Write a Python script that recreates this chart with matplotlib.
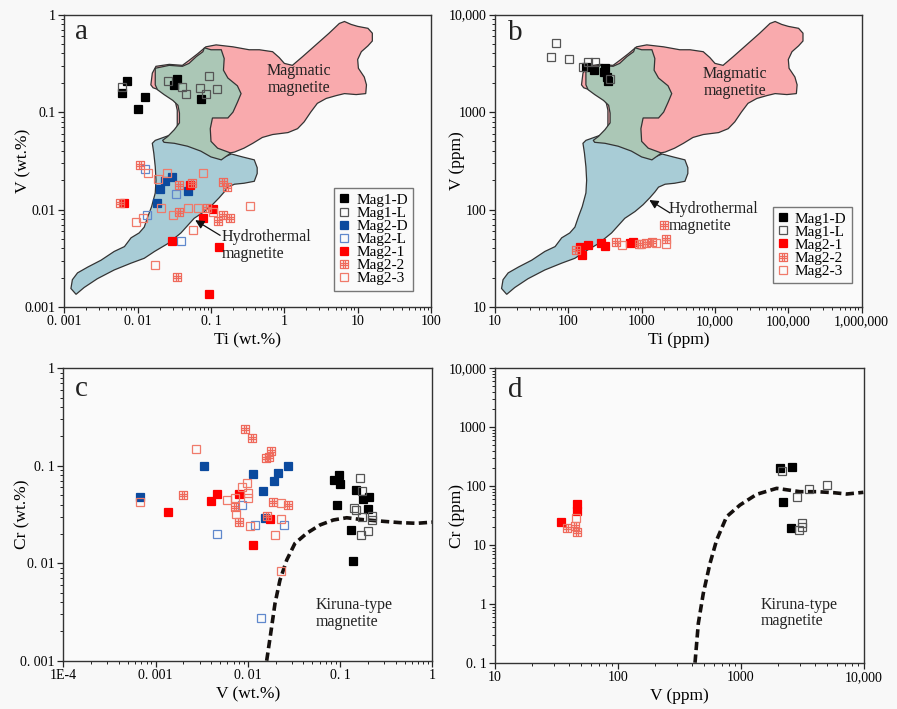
import matplotlib

matplotlib.use("Agg")

import matplotlib.pyplot as plt
import numpy as np
from matplotlib.path import Path
from matplotlib.ticker import LogLocator, NullFormatter


WIDTH = 897
HEIGHT = 709
DPI = 100

SERIF = "Liberation Serif"
PAPER = "#f8f8f8"
FACE = "#fafafa"
INK = "#222222"

# Discrimination fields (Ti vs V), stored as log10 of ppm.
MAGMATIC_TI = [2.18, 2.20, 2.25, 2.43, 2.61, 2.70, 2.82, 2.93, 3.07, 3.30,
               3.52, 3.66, 3.84, 3.93, 4.00, 4.11, 4.25, 4.43, 4.61, 4.75,
               4.82, 4.91, 5.00, 5.14, 5.20, 5.20, 5.14, 5.05, 5.00, 5.01,
               5.09, 5.12, 5.11, 4.98, 4.82, 4.71, 4.57, 4.45, 4.36, 4.27,
               4.18, 4.05, 3.84, 3.70, 3.57, 3.45, 3.32, 3.18, 2.98, 2.77,
               2.64, 2.54, 2.54, 2.51, 2.36, 2.21]
MAGMATIC_V = [3.28, 3.40, 3.47, 3.49, 3.48, 3.53, 3.60, 3.67, 3.69, 3.67,
              3.64, 3.64, 3.62, 3.56, 3.50, 3.48, 3.57, 3.69, 3.81, 3.91,
              3.93, 3.90, 3.88, 3.86, 3.81, 3.73, 3.68, 3.62, 3.54, 3.45,
              3.36, 3.28, 3.19, 3.18, 3.19, 3.17, 3.14, 3.09, 3.00, 2.90,
              2.83, 2.79, 2.77, 2.74, 2.68, 2.63, 2.59, 2.57, 2.62, 2.69,
              2.77, 2.85, 3.02, 3.12, 3.21, 3.25]

HYDRO_TI = [1.16, 1.09, 1.11, 1.18, 1.32, 1.50, 1.68, 1.82, 1.91, 2.02,
            2.09, 2.14, 2.19, 2.24, 2.25, 2.24, 2.22, 2.20, 2.24, 2.50,
            2.77, 3.05, 3.18, 3.28, 3.43, 3.59, 3.63, 3.63, 3.59, 3.45,
            3.32, 3.23, 3.18, 3.11, 3.02, 2.91, 2.77, 2.59, 2.41, 2.23,
            2.09, 1.91, 1.68, 1.45, 1.27]
HYDRO_V = [1.13, 1.19, 1.28, 1.35, 1.41, 1.48, 1.57, 1.62, 1.71, 1.76,
           1.82, 1.93, 2.03, 2.17, 2.30, 2.44, 2.58, 2.68, 2.71, 2.78,
           2.71, 2.59, 2.54, 2.57, 2.54, 2.51, 2.43, 2.37, 2.29, 2.27,
           2.26, 2.23, 2.18, 2.12, 2.05, 1.98, 1.91, 1.76, 1.65, 1.57,
           1.50, 1.45, 1.38, 1.29, 1.20]

OVERLAP_TI = [2.24, 2.43, 2.61, 2.70, 2.80, 2.89, 2.91, 3.00, 3.14, 3.18,
              3.17, 3.23, 3.36, 3.41, 3.36, 3.30, 3.23, 3.02, 2.99, 3.00,
              3.09, 3.27, 3.14, 3.00, 2.86, 2.68, 2.50, 2.36, 2.34, 2.41,
              2.50, 2.57, 2.57, 2.55, 2.48, 2.36, 2.27, 2.24]
OVERLAP_V = [3.45, 3.48, 3.47, 3.50, 3.57, 3.62, 3.66, 3.64, 3.64, 3.55,
             3.43, 3.35, 3.27, 3.19, 3.10, 3.00, 2.94, 2.94, 2.83, 2.70,
             2.63, 2.58, 2.51, 2.54, 2.60, 2.65, 2.68, 2.69, 2.71, 2.75,
             2.82, 2.89, 2.99, 3.07, 3.12, 3.18, 3.23, 3.28]

# Panel a: Ti vs V in wt.%
A_MAG1_D = ([0.00605, 0.00723, 0.0102, 0.0126, 0.0316, 0.034, 0.0738],
            [0.156, 0.210, 0.107, 0.144, 0.190, 0.219, 0.137])
A_MAG1_L = ([0.00605, 0.0262, 0.0398, 0.0456, 0.0708, 0.0846, 0.0949, 0.121],
            [0.180, 0.209, 0.182, 0.152, 0.178, 0.152, 0.233, 0.173])
A_MAG2_D = ([0.0292, 0.0236, 0.0202, 0.0491, 0.0182],
            [0.0217, 0.0198, 0.0163, 0.0156, 0.0116])
A_MAG2_L = ([0.0126, 0.033, 0.0133, 0.039],
            [0.0259, 0.0144, 0.00879, 0.00479])
A_MAG2_1 = ([0.0518, 0.00652, 0.106, 0.0787, 0.0292, 0.130, 0.094],
            [0.0179, 0.0116, 0.0102, 0.00813, 0.00479, 0.0041, 0.00136])
A_MAG2_2 = ([0.0108, 0.0370, 0.0546, 0.147, 0.167, 0.00575, 0.037, 0.0875,
             0.147, 0.182, 0.126, 0.0348],
            [0.0286, 0.0179, 0.0186, 0.0193, 0.0169, 0.0116, 0.0095, 0.0103,
             0.00879, 0.00813, 0.00769, 0.00202])
A_MAG2_3 = ([0.0140, 0.0254, 0.0191, 0.0787, 0.0207, 0.0301, 0.0491, 0.0671,
             0.108, 0.340, 0.0117, 0.0095, 0.0574, 0.0173],
            [0.0239, 0.0239, 0.0205, 0.0239, 0.0103, 0.00879, 0.0103, 0.0103,
             0.0095, 0.0109, 0.00813, 0.0075, 0.00617, 0.0027])

# Panel b: Ti vs V in ppm
B_MAG1_D = ([172, 224, 316, 310, 337, 351],
            [2885, 2706, 2818, 2564, 2310, 2104])
B_MAG1_L = ([67.9, 57.4, 103, 184, 231, 160, 370],
            [5085, 3654, 3485, 3247, 3247, 2885, 2173])
B_MAG2_1 = ([144, 184, 155, 279, 316, 693, 770],
            [41.6, 43.3, 34.2, 45.1, 42.3, 45.7, 46.5])
B_MAG2_2 = ([127, 442, 920, 1135, 1368, 2037, 2168],
            [38.5, 46.5, 44, 45.1, 46.1, 70, 50.2])
B_MAG2_3 = ([533, 979, 1552, 2168],
            [43, 44, 45.1, 44.7])

# Panel c: V vs Cr in wt.%
C_MAG1_D = ([0.0867, 0.0973, 0.0998, 0.0933, 0.130, 0.139, 0.148, 0.179,
             0.206, 0.199],
            [0.0714, 0.0810, 0.0645, 0.0399, 0.0219, 0.01045, 0.0560, 0.0452,
             0.0482, 0.0363])
C_MAG1_L = ([0.164, 0.171, 0.143, 0.148, 0.174, 0.224, 0.224, 0.169, 0.199],
            [0.0755, 0.0547, 0.0369, 0.0352, 0.0300, 0.0305, 0.0278, 0.0195,
             0.0214])
C_MAG2_D = ([0.000678, 0.00335, 0.01127, 0.01449, 0.01535, 0.0192, 0.0210,
             0.0275],
            [0.0482, 0.1002, 0.0823, 0.0551, 0.0293, 0.0698, 0.0836, 0.1002])
C_MAG2_L = ([0.00467, 0.00871, 0.01197, 0.0249, 0.0139],
            [0.0201, 0.0396, 0.0245, 0.0245, 0.00274])
C_MAG2_1 = ([0.00135, 0.00399, 0.00467, 0.00802, 0.0174, 0.01127],
            [0.0333, 0.0438, 0.0509, 0.0513, 0.0282, 0.01538])
C_MAG2_2 = ([0.0020, 0.0093, 0.0112, 0.0178, 0.0170, 0.01574, 0.0081,
             0.00726, 0.01626, 0.01858, 0.0275],
            [0.0497, 0.2366, 0.191, 0.1418, 0.1221, 0.121, 0.0267, 0.0380,
             0.0305, 0.0421, 0.0393])
C_MAG2_3 = ([0.000678, 0.00272, 0.0060, 0.00726, 0.00738, 0.00871, 0.00989,
             0.00997, 0.0101, 0.01055, 0.01987, 0.0229, 0.0229, 0.0229],
            [0.0421, 0.1486, 0.0445, 0.0463, 0.0320, 0.0610, 0.0671, 0.0530,
             0.0463, 0.0241, 0.0193, 0.0415, 0.0282, 0.00832])
C_KIRUNA = ([0.0160, 0.0177, 0.0197, 0.0223, 0.0264, 0.0324, 0.0435, 0.0605,
             0.0845, 0.118, 0.164, 0.271, 0.447, 0.676, 1.0],
            [0.001, 0.00191, 0.00387, 0.00673, 0.0108, 0.0160, 0.0203, 0.0247,
             0.0278, 0.0293, 0.0282, 0.0271, 0.0261, 0.0257, 0.0264])

# Panel d: V vs Cr in ppm
D_MAG1_D = ([2075, 2614, 2208, 2535], [200, 214, 54.3, 19.6])
D_MAG1_L = ([2168, 2837, 3594, 4970, 2963, 3155, 3155],
            [180, 65.2, 89, 103, 17.7, 19.9, 23.9])
D_MAG2_1 = ([34.4, 46.1, 46.1], [24.2, 49.6, 37.7])
D_MAG2_2 = ([38.3, 44.7, 46.7], [19.1, 21, 16.8])
D_MAG2_3 = ([45.8], [28.3])
D_KIRUNA = ([423, 450, 494, 560, 634, 764, 982, 1340, 1950, 3020, 4121, 5636,
             7228, 9883],
            [0.1, 0.466, 1.51, 4.87, 12.1, 30.2, 47.7, 72.4, 91.5, 80.3, 80.3,
             77.3, 73.3, 78.3])


def grid_square():
    """Square marker split by a 3 x 3 grid."""
    verts = [(-1, -1), (1, -1), (1, 1), (-1, 1), (-1, -1)]
    codes = [Path.MOVETO, Path.LINETO, Path.LINETO, Path.LINETO, Path.CLOSEPOLY]
    for k in (-1 / 3, 1 / 3):
        verts += [(k, -1), (k, 1), (-1, k), (1, k)]
        codes += [Path.MOVETO, Path.LINETO, Path.MOVETO, Path.LINETO]
    return Path(verts, codes)


GRID = grid_square()

STYLES = {
    "Mag1-D": dict(marker="s", mfc="#000000", mec="#000000"),
    "Mag1-L": dict(marker="s", mfc="none", mec="#555555"),
    "Mag2-D": dict(marker="s", mfc="#0b4a9e", mec="#0b4a9e"),
    "Mag2-L": dict(marker="s", mfc="none", mec="#5f88cc"),
    "Mag2-1": dict(marker="s", mfc="#ff0000", mec="#ff0000"),
    "Mag2-2": dict(marker=GRID, mfc="none", mec="#ef6a5c"),
    "Mag2-3": dict(marker="s", mfc="none", mec="#f07a6a"),
}


def scatter(ax, name, series):
    ax.plot(series[0], series[1], linestyle="none", markersize=5.4,
            markeredgewidth=0.9, label=name, zorder=5, **STYLES[name])


def draw_fields(ax, shift):
    # shift = -4 turns ppm into wt.%
    for ti, v, color in ((MAGMATIC_TI, MAGMATIC_V, "#f9aaad"),
                         (HYDRO_TI, HYDRO_V, "#a8ccd6"),
                         (OVERLAP_TI, OVERLAP_V, "#abc7b6")):
        x = 10 ** (np.array(ti) + shift)
        y = 10 ** (np.array(v) + shift)
        ax.fill(x, y, facecolor=color, edgecolor="#333333", linewidth=0.9,
                zorder=2)


def setup(ax, xlim, ylim, xticks, xlabels, yticks, ylabels, xlabel, ylabel,
          ylabel_x):
    ax.set_xscale("log")
    ax.set_yscale("log")
    ax.set_xlim(*xlim)
    ax.set_ylim(*ylim)
    ax.set_facecolor(FACE)
    ax.set_xticks(xticks)
    ax.set_xticklabels(xlabels)
    ax.set_yticks(yticks)
    ax.set_yticklabels(ylabels)
    for axis in (ax.xaxis, ax.yaxis):
        axis.set_minor_locator(LogLocator(base=10, subs=np.arange(2, 10)))
        axis.set_minor_formatter(NullFormatter())
    ax.tick_params(which="major", direction="out", length=4, width=0.9,
                   color=INK, labelsize=10, pad=2)
    ax.tick_params(which="minor", direction="out", length=2.2, width=0.7,
                   color=INK)
    for label in ax.get_xticklabels() + ax.get_yticklabels():
        label.set_fontfamily(SERIF)
    for spine in ax.spines.values():
        spine.set_color("#333333")
        spine.set_linewidth(1.0)
    ax.set_xlabel(xlabel, fontfamily=SERIF, fontsize=12.5, labelpad=3)
    ax.set_ylabel(ylabel, fontfamily=SERIF, fontsize=12.5)
    ax.yaxis.set_label_coords(ylabel_x, 0.5)


def note(ax, x, y, text, ha="left"):
    ax.text(x, y, text, transform=ax.transAxes, fontfamily=SERIF, fontsize=11.5,
            color=INK, ha=ha, va="top", linespacing=1.05, zorder=6)


def letter(ax, x, y, text):
    ax.text(x, y, text, transform=ax.transAxes, fontfamily=SERIF, fontsize=21,
            color=INK, ha="left", va="center", zorder=6)


def arrow(ax, tail, head):
    ax.annotate("", xy=head, xytext=tail, xycoords="axes fraction",
                textcoords="axes fraction",
                arrowprops=dict(arrowstyle="-|>", color="#111111", lw=0.9,
                                mutation_scale=13, shrinkA=0, shrinkB=0),
                zorder=6)


def legend(ax, anchor):
    ax.legend(loc="lower right", bbox_to_anchor=anchor, frameon=True,
              fancybox=False, edgecolor="#777777", facecolor=FACE,
              framealpha=1, prop=dict(family=SERIF, size=11),
              handlelength=0.6, handletextpad=0.5, labelspacing=-0.04,
              borderpad=0.35, borderaxespad=0)


def kiruna(ax, series):
    ax.plot(series[0], series[1], color="#15100e", linewidth=2.6,
            dashes=(2.3, 1.2), zorder=4)


def main():
    fig = plt.figure(figsize=(WIDTH / DPI, HEIGHT / DPI), dpi=DPI,
                     facecolor=PAPER)
    ax_a = fig.add_axes([0.0717, 0.5670, 0.4088, 0.4123])
    ax_b = fig.add_axes([0.5518, 0.5670, 0.4088, 0.4123])
    ax_c = fig.add_axes([0.0706, 0.0681, 0.4114, 0.4124])
    ax_d = fig.add_axes([0.5518, 0.0653, 0.4114, 0.4152])

    # a
    setup(ax_a, (1e-3, 1e2), (1e-3, 1),
          [1e-3, 1e-2, 1e-1, 1, 10, 100],
          ["0. 001", "0. 01", "0. 1", "1", "10", "100"],
          [1e-3, 1e-2, 1e-1, 1], ["0.001", "0.01", "0.1", "1"],
          "Ti (wt.%)", "V (wt.%)", -0.091)
    draw_fields(ax_a, -4)
    for name, series in (("Mag1-D", A_MAG1_D), ("Mag1-L", A_MAG1_L),
                         ("Mag2-D", A_MAG2_D), ("Mag2-L", A_MAG2_L),
                         ("Mag2-1", A_MAG2_1), ("Mag2-2", A_MAG2_2),
                         ("Mag2-3", A_MAG2_3)):
        scatter(ax_a, name, series)
    letter(ax_a, 0.028, 0.942, "a")
    note(ax_a, 0.64, 0.835, "Magmatic\nmagnetite", ha="center")
    note(ax_a, 0.428, 0.267, "Hydrothermal\nmagnetite")
    arrow(ax_a, (0.425, 0.245), (0.357, 0.297))
    legend(ax_a, (0.952, 0.056))

    # b
    setup(ax_b, (10, 1e6), (10, 1e4),
          [10, 100, 1000, 1e4, 1e5, 1e6],
          ["10", "100", "1000", "10,000", "100,000", "1,000,000"],
          [10, 100, 1000, 1e4], ["10", "100", "1000", "10,000"],
          "Ti (ppm)", "V (ppm)", -0.082)
    draw_fields(ax_b, 0)
    for name, series in (("Mag1-D", B_MAG1_D), ("Mag1-L", B_MAG1_L),
                         ("Mag2-1", B_MAG2_1), ("Mag2-2", B_MAG2_2),
                         ("Mag2-3", B_MAG2_3)):
        scatter(ax_b, name, series)
    letter(ax_b, 0.035, 0.936, "b")
    note(ax_b, 0.654, 0.824, "Magmatic\nmagnetite", ha="center")
    note(ax_b, 0.474, 0.362, "Hydrothermal\nmagnetite")
    arrow(ax_b, (0.477, 0.322), (0.421, 0.366))
    legend(ax_b, (0.973, 0.081))

    # c
    setup(ax_c, (1e-4, 1), (1e-3, 1),
          [1e-4, 1e-3, 1e-2, 1e-1, 1],
          ["1E-4", "0. 001", "0. 01", "0. 1", "1"],
          [1e-3, 1e-2, 1e-1, 1], ["0. 001", "0. 01", "0. 1", "1"],
          "V (wt.%)", "Cr (wt.%)", -0.09)
    kiruna(ax_c, C_KIRUNA)
    for name, series in (("Mag1-D", C_MAG1_D), ("Mag1-L", C_MAG1_L),
                         ("Mag2-D", C_MAG2_D), ("Mag2-L", C_MAG2_L),
                         ("Mag2-1", C_MAG2_1), ("Mag2-2", C_MAG2_2),
                         ("Mag2-3", C_MAG2_3)):
        scatter(ax_c, name, series)
    letter(ax_c, 0.03, 0.931, "c")
    note(ax_c, 0.684, 0.218, "Kiruna-type\nmagnetite")

    # d
    setup(ax_d, (10, 1e4), (0.1, 1e4),
          [10, 100, 1000, 1e4], ["10", "100", "1000", "10,000"],
          [0.1, 1, 10, 100, 1000, 1e4],
          ["0. 1", "1", "10", "100", "1000", "10,000"],
          "V (ppm)", "Cr (ppm)", -0.081)
    kiruna(ax_d, D_KIRUNA)
    for name, series in (("Mag1-D", D_MAG1_D), ("Mag1-L", D_MAG1_L),
                         ("Mag2-1", D_MAG2_1), ("Mag2-2", D_MAG2_2),
                         ("Mag2-3", D_MAG2_3)):
        scatter(ax_d, name, series)
    letter(ax_d, 0.035, 0.926, "d")
    note(ax_d, 0.721, 0.224, "Kiruna-type\nmagnetite")

    fig.savefig("out.png", dpi=DPI, facecolor=PAPER)
    plt.close(fig)


if __name__ == "__main__":
    main()
